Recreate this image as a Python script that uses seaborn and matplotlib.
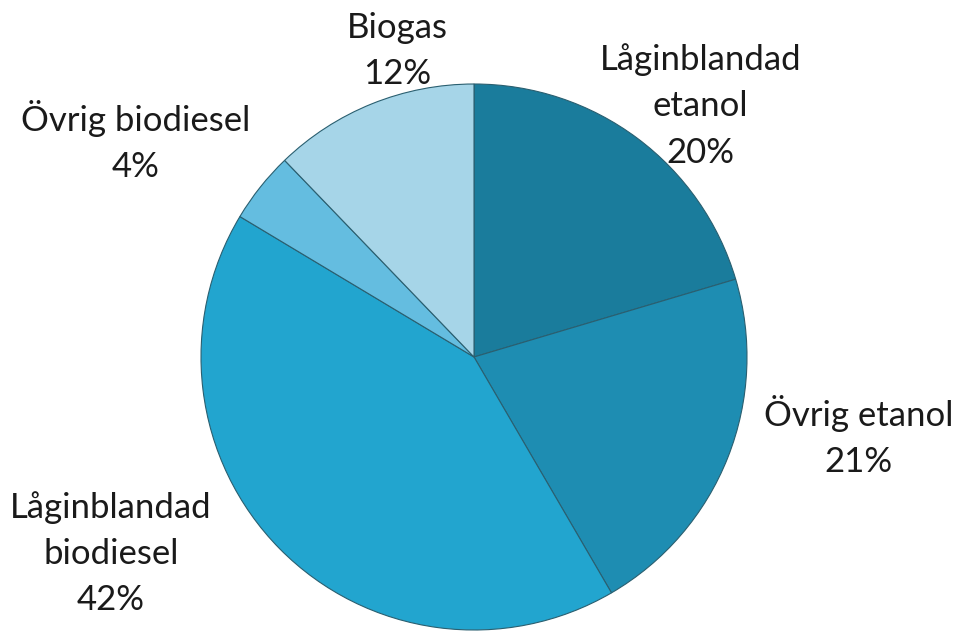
import matplotlib
matplotlib.use("Agg")
import matplotlib.pyplot as plt
import seaborn as sns

categories = ["Låginblandad\netanol", "Övrig etanol", "Låginblandad\nbiodiesel",
              "Övrig biodiesel", "Biogas"]
values = [20.4, 21.2, 42.0, 4.2, 12.2]
colors = ["#1a7c9c", "#1e8db2", "#22a5cf", "#64bde0", "#a6d5e8"]

sns.set_theme(style="white")
plt.rcParams['font.family'] = ['Lato', 'DejaVu Sans']

fig = plt.figure(figsize=(9.62, 6.32), dpi=100)
ax = fig.add_axes([201/962, 2/632, 546/962, 546/632])

wedges, _ = ax.pie(values, colors=colors, startangle=90, counterclock=False,
                   radius=1.0, center=(0, 0),
                   wedgeprops=dict(edgecolor="#2a5f70", linewidth=0.8))
ax.set_xlim(-1, 1)
ax.set_ylim(-1, 1)
ax.set_aspect("equal")
ax.axis("off")

label_pos = [(0.83, 0.92), (1.41, -0.29), (-1.33, -0.72), (-1.24, 0.79), (-0.28, 1.12)]
for cat, v, (x, y) in zip(categories, values, label_pos):
    ax.text(x, y, f"{cat}\n{round(v)}%", ha="center", va="center",
            fontsize=25, color="#1a1a1a", linespacing=1.55, clip_on=False)

fig.savefig("out.png", dpi=100, facecolor="white")
